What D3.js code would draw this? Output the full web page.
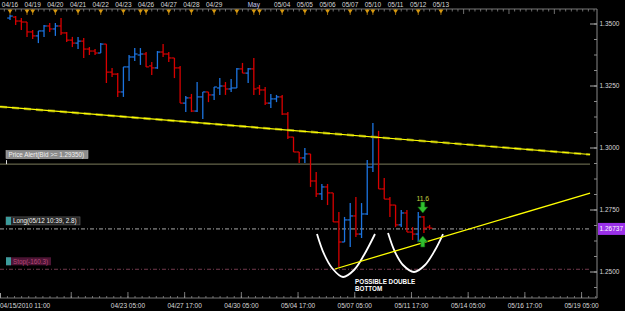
<!DOCTYPE html>
<html>
<head>
<meta charset="utf-8">
<script src="https://cdn.jsdelivr.net/npm/d3@7"></script>
<style>
  html, body { margin: 0; padding: 0; background: #000; }
  svg { display: block; }
  text { font-family: "Liberation Sans", Arial, sans-serif; }
</style>
</head>
<body>
<div id="chart"></div>
<script>
// 6h bars, eurusd-ish
const open  = [1.3524,1.3528,1.3512,1.3508,1.3468,1.3452,1.3472,1.3492,1.3480,1.3492,
               1.3464,1.3435,1.3423,1.3431,1.3399,1.3391,1.3383,1.3419,1.3306,1.3298,
               1.3226,1.3327,1.3367,1.3375,1.3379,1.3331,1.3323,1.3387,1.3379,1.3363,
               1.3323,1.3181,1.3202,1.3149,1.3206,1.3226,1.3214,1.3242,1.3250,1.3238,
               1.3242,1.3319,1.3302,1.3319,1.3242,1.3234,1.3181,1.3198,1.3206,1.3137,
               1.3044,1.2984,1.2960,1.2976,1.2867,1.2815,1.2843,1.2819,1.2702,1.2621,
               1.2710,1.2726,1.2653,1.2734,1.2923,1.3044,1.2835,1.2794,1.2770,1.2690,
               1.2738,1.2661,1.2653,1.2722,1.2681]
const high  = [1.3536,1.3532,1.3524,1.3508,1.3476,1.3472,1.3496,1.3504,1.3504,1.3524,
               1.3468,1.3448,1.3448,1.3444,1.3407,1.3399,1.3423,1.3419,1.3323,1.3302,
               1.3327,1.3375,1.3403,1.3403,1.3387,1.3347,1.3391,1.3419,1.3387,1.3363,
               1.3331,1.3210,1.3218,1.3266,1.3226,1.3226,1.3246,1.3282,1.3266,1.3278,
               1.3323,1.3343,1.3323,1.3363,1.3254,1.3246,1.3218,1.3214,1.3214,1.3145,
               1.3044,1.2984,1.3000,1.2976,1.2903,1.2855,1.2855,1.2819,1.2742,1.2722,
               1.2778,1.2802,1.2778,1.2952,1.3101,1.3069,1.2879,1.2802,1.2770,1.2750,
               1.2750,1.2681,1.2742,1.2726,1.2690]
const low   = [1.3516,1.3496,1.3476,1.3448,1.3440,1.3423,1.3448,1.3468,1.3452,1.3456,
               1.3427,1.3407,1.3399,1.3363,1.3375,1.3375,1.3383,1.3262,1.3286,1.3206,
               1.3206,1.3270,1.3351,1.3335,1.3327,1.3294,1.3319,1.3367,1.3347,1.3282,
               1.3181,1.3145,1.3145,1.3145,1.3117,1.3185,1.3194,1.3214,1.3214,1.3226,
               1.3242,1.3302,1.3262,1.3214,1.3214,1.3173,1.3161,1.3185,1.3133,1.3036,
               1.2984,1.2940,1.2940,1.2843,1.2802,1.2790,1.2770,1.2702,1.2520,1.2621,
               1.2601,1.2641,1.2637,1.2730,1.2903,1.2835,1.2794,1.2722,1.2681,1.2681,
               1.2661,1.2629,1.2621,1.2657,1.2673]
const close = [1.3532,1.3512,1.3508,1.3468,1.3452,1.3472,1.3492,1.3480,1.3492,1.3464,
               1.3435,1.3423,1.3431,1.3399,1.3391,1.3383,1.3419,1.3306,1.3298,1.3226,
               1.3327,1.3367,1.3379,1.3379,1.3327,1.3323,1.3387,1.3379,1.3363,1.3323,
               1.3181,1.3202,1.3149,1.3206,1.3226,1.3214,1.3246,1.3250,1.3238,1.3242,
               1.3319,1.3302,1.3319,1.3238,1.3234,1.3181,1.3198,1.3206,1.3137,1.3044,
               1.2984,1.2960,1.2976,1.2867,1.2815,1.2843,1.2819,1.2702,1.2621,1.2710,
               1.2726,1.2653,1.2734,1.2923,1.3044,1.2835,1.2794,1.2770,1.2690,1.2738,
               1.2661,1.2653,1.2722,1.2677,1.2677]

// top axis (day labels, in bar-index units)
const dayLabels = ["04/16","04/19","04/20","04/21","04/22","04/23","04/26","04/27","04/28","04/29",
                   "May","05/04","05/05","05/06","05/07","05/10","05/11","05/12","05/13"]
const dayIdx    = [0,4,8,12,16,20,24,28,32,36,43,48,52,56,60,64,68,72,76]
const extraMarks = [3,23,40,44,63]

// bottom axis
const timeLabels = ["04/23 05:00","04/27 17:00","04/30 05:00","05/04 17:00","05/07 05:00",
                    "05/11 17:00","05/14 05:00","05/16 17:00","05/19 05:00"]
const timeIdx    = [20.8,30.8,40.8,50.8,60.8,70.8,80.8,90.8,100.8]

// price axis
const priceTicks = [1.25,1.275,1.30,1.325,1.35]
const lastPrice = 1.26737
const alertPrice = 1.2935
const stopPrice = 1.2511

// drawn objects (index, price)
const trendDown = [[-1.76,1.31665],[102.3,1.29738]]
const trendUp   = [[57.3,1.25121],[102.3,1.28185]]
const bottom1 = [[54.14,1.26532],[55.38,1.25726],[56.79,1.25161],[58.73,1.24798],[60.67,1.25081],[62.43,1.25685],[64.37,1.26532]]
const bottom2 = [[66.67,1.26573],[67.90,1.25806],[69.31,1.25282],[71.25,1.2500],[73.19,1.25282],[74.96,1.25887],[76.37,1.26532]]
const sellArrow = [72.8,1.27379]
const buyArrow  = [72.8,1.26411]

const W = 625, H = 311
const plotRight = 590, axisX = 597, topY = 9, botY = 298

let svg = d3.select("#chart").append("svg").attr("width", W).attr("height", H)
svg.append("rect").attr("width", W).attr("height", H).attr("fill", "#000")

let x = d3.scaleLinear().domain([0, 74]).range([10, 429.6])
let y = d3.scaleLinear().domain([1.25, 1.35]).range([272, 24])

drawAxes()
drawLevels()
drawBars()
drawObjects()

function drawAxes()
{
    // top time axis
    svg.append("line").attr("x1", 0).attr("x2", axisX).attr("y1", topY).attr("y2", topY)
        .attr("stroke", "#777")
    let minor = d3.range(-1, 104)
    svg.selectAll(".tmin").data(minor).enter().append("line")
        .attr("x1", d => x(d)).attr("x2", d => x(d))
        .attr("y1", topY).attr("y2", d => (d > 76 && d % 8 == 0) ? topY + 5 : topY + 2.5)
        .attr("stroke", "#8a8a8a").attr("stroke-width", 0.8)
    let marks = dayIdx.concat(extraMarks)
    svg.selectAll(".tri").data(marks).enter().append("path")
        .attr("d", d => {
            let cx = x(d)
            return `M${cx-2.5},${topY+0.5}L${cx+2.5},${topY+0.5}L${cx},${topY+4.5}Z`
        })
        .attr("fill", "#d89a10")
    svg.selectAll(".stem").data(marks).enter().append("line")
        .attr("x1", d => x(d)).attr("x2", d => x(d)).attr("y1", topY + 3).attr("y2", topY + 6)
        .attr("stroke", "#b07a10").attr("stroke-width", 0.8)
    svg.selectAll(".dlab").data(dayLabels).enter().append("text")
        .attr("x", (d, i) => x(dayIdx[i])).attr("y", 7)
        .attr("text-anchor", "middle").attr("font-size", 6.5)
        .attr("fill", d => d == "May" ? "#c8c8f0" : "#d8d8d8")
        .text(d => d)

    // bottom time axis
    svg.append("line").attr("x1", 0).attr("x2", axisX).attr("y1", botY).attr("y2", botY)
        .attr("stroke", "#777")
    let bMinor = d3.range(-1.7, 104, 1.25)
    svg.selectAll(".bmin").data(bMinor).enter().append("line")
        .attr("x1", d => x(d)).attr("x2", d => x(d)).attr("y1", botY).attr("y2", botY - 2)
        .attr("stroke", "#8a8a8a").attr("stroke-width", 0.8)
    let bMajor = [10.8].concat(timeIdx)
    svg.selectAll(".bmaj").data(bMajor).enter().append("line")
        .attr("x1", d => x(d)).attr("x2", d => x(d)).attr("y1", botY).attr("y2", botY - 6)
        .attr("stroke", "#9a9a9a").attr("stroke-width", 0.8)
    svg.append("line").attr("x1", 0.5).attr("x2", 0.5).attr("y1", botY).attr("y2", botY - 5)
        .attr("stroke", "#9a9a9a")
    svg.append("text").attr("x", 0).attr("y", 308).attr("font-size", 6.5).attr("fill", "#d8d8d8")
        .text("04/15/2010 11:00")
    svg.selectAll(".blab").data(timeLabels).enter().append("text")
        .attr("x", (d, i) => x(timeIdx[i])).attr("y", 308)
        .attr("text-anchor", "middle").attr("font-size", 6.5).attr("fill", "#d8d8d8")
        .text(d => d)

    // right price axis
    svg.append("line").attr("x1", axisX).attr("x2", axisX).attr("y1", topY).attr("y2", botY)
        .attr("stroke", "#888")
    let pMinor = d3.range(1.24375, 1.356, 0.00625)
    svg.selectAll(".pmin").data(pMinor).enter().append("line")
        .attr("x1", axisX - 3).attr("x2", axisX).attr("y1", d => y(d)).attr("y2", d => y(d))
        .attr("stroke", "#8a8a8a")
    svg.selectAll(".pmaj").data(priceTicks).enter().append("line")
        .attr("x1", axisX - 7).attr("x2", axisX).attr("y1", d => y(d)).attr("y2", d => y(d))
        .attr("stroke", "#aaa")
    svg.selectAll(".plab").data(priceTicks).enter().append("text")
        .attr("x", 599.5).attr("y", d => y(d) + 2.3)
        .attr("font-size", 6.5).attr("fill", "#d8d8d8")
        .text(d => d3.format(".4f")(d))
}

function drawLevels()
{
    // price alert
    svg.append("line").attr("x1", 0).attr("x2", plotRight)
        .attr("y1", y(alertPrice)).attr("y2", y(alertPrice))
        .attr("stroke", "#7c7c5c").attr("stroke-width", 1)
    svg.append("rect").attr("x", 6).attr("y", y(alertPrice) - 13.5).attr("width", 82).attr("height", 8)
        .attr("fill", "#8c8c8c").attr("stroke", "#b0b0b0").attr("stroke-width", 0.6)
    svg.append("text").attr("x", 8.5).attr("y", y(alertPrice) - 7.3).attr("font-size", 6.3)
        .attr("fill", "#f0f0f0").text("Price Alert(Bid >= 1.29350)")
    svg.append("line").attr("x1", 6.5).attr("x2", 6.5)
        .attr("y1", y(alertPrice) - 4).attr("y2", y(alertPrice))
        .attr("stroke", "#ddd")

    // long entry
    let ly = y(lastPrice)
    svg.append("line").attr("x1", 0).attr("x2", plotRight).attr("y1", ly).attr("y2", ly)
        .attr("stroke", "#a8a8a8").attr("stroke-dasharray", "4,2,1,2")
    svg.append("rect").attr("x", 6).attr("y", ly - 12).attr("width", 74).attr("height", 8)
        .attr("fill", "#262626").attr("stroke", "#666").attr("stroke-width", 0.6)
    svg.append("rect").attr("x", 6).attr("y", ly - 12).attr("width", 5).attr("height", 8)
        .attr("fill", "#3c9c9c")
    svg.append("text").attr("x", 13).attr("y", ly - 5.7).attr("font-size", 6.3)
        .attr("fill", "#f0f0f0").text("Long(05/12 10:39, 2.8)")

    // stop
    let sy = y(stopPrice)
    svg.append("line").attr("x1", 0).attr("x2", plotRight).attr("y1", sy).attr("y2", sy)
        .attr("stroke", "#70384c").attr("stroke-dasharray", "4,2,1,2")
    svg.append("rect").attr("x", 6).attr("y", sy - 12).attr("width", 45).attr("height", 8)
        .attr("fill", "#4c1434")
    svg.append("rect").attr("x", 6).attr("y", sy - 12).attr("width", 5).attr("height", 8)
        .attr("fill", "#3c9c9c")
    svg.append("text").attr("x", 13).attr("y", sy - 5.7).attr("font-size", 6.3)
        .attr("fill", "#b84878").text("Stop(-160.3)")

    // last price tag
    svg.append("rect").attr("x", 598).attr("y", ly - 6).attr("width", 27).attr("height", 12)
        .attr("fill", "#9a30e8")
    svg.append("text").attr("x", 599.5).attr("y", ly + 2.3).attr("font-size", 6.5)
        .attr("fill", "#fff").text(d3.format(".5f")(lastPrice))
}

function drawBars()
{
    let bars = close.map((c, i) => ({i: i, o: open[i], h: high[i], l: low[i], c: c}))
    let g = svg.append("g")
    let col = d => d.c >= d.o ? "#1c74e0" : "#d80000"
    g.selectAll(".hl").data(bars).enter().append("line")
        .attr("x1", d => x(d.i)).attr("x2", d => x(d.i))
        .attr("y1", d => y(d.h)).attr("y2", d => y(d.l))
        .attr("stroke", col).attr("stroke-width", 1.3)
    g.selectAll(".op").data(bars).enter().append("line")
        .attr("x1", d => x(d.i) - 2.8).attr("x2", d => x(d.i))
        .attr("y1", d => y(d.o)).attr("y2", d => y(d.o))
        .attr("stroke", col).attr("stroke-width", 1.2)
    g.selectAll(".cl").data(bars).enter().append("line")
        .attr("x1", d => x(d.i)).attr("x2", d => x(d.i) + 2.8)
        .attr("y1", d => y(d.c)).attr("y2", d => y(d.c))
        .attr("stroke", col).attr("stroke-width", 1.2)
}

function drawObjects()
{
    let line = d3.line().x(d => x(d[0])).y(d => y(d[1]))
    let curve = d3.line().x(d => x(d[0])).y(d => y(d[1])).curve(d3.curveCatmullRom)

    // trend lines
    svg.append("path").attr("d", line(trendDown)).attr("fill", "none")
        .attr("stroke", "#7a7a10").attr("stroke-width", 2.6).attr("stroke-dasharray", "7,5")
    svg.append("path").attr("d", line(trendDown)).attr("fill", "none")
        .attr("stroke", "#ffff00").attr("stroke-width", 1.2)

    // double bottom sketch
    for (const b of [bottom1, bottom2]) {
        svg.append("path").attr("d", curve(b)).attr("fill", "none")
            .attr("stroke", "#fff").attr("stroke-width", 1.8)
    }
    svg.append("path").attr("d", line(trendUp)).attr("fill", "none")
        .attr("stroke", "#ffff00").attr("stroke-width", 1.3)

    svg.append("text").attr("x", x(60.85)).attr("y", y(1.2452)).attr("font-size", 6.3)
        .attr("font-family", "Liberation Serif, serif").attr("font-weight", "bold").attr("fill", "#fff")
        .text("POSSIBLE DOUBLE")
    svg.append("text").attr("x", x(60.85)).attr("y", y(1.2452) + 7.5).attr("font-size", 6.3)
        .attr("font-family", "Liberation Serif, serif").attr("font-weight", "bold").attr("fill", "#fff")
        .text("BOTTOM")

    // arrows
    let sx = x(sellArrow[0]), sy = y(sellArrow[1])
    svg.append("path")
        .attr("d", `M${sx-2},${sy-11}L${sx+2},${sy-11}L${sx+2},${sy-6}L${sx+5},${sy-6}L${sx},${sy}L${sx-5},${sy-6}L${sx-2},${sy-6}Z`)
        .attr("fill", "#30c030").attr("stroke", "#0c600c").attr("stroke-width", 0.6)
    svg.append("text").attr("x", sx).attr("y", sy - 12.5).attr("text-anchor", "middle")
        .attr("font-size", 6.8).attr("fill", "#c8d040").text("11.6")
    let bx = x(buyArrow[0]), by = y(buyArrow[1])
    svg.append("path")
        .attr("d", `M${bx-2},${by+10}L${bx+2},${by+10}L${bx+2},${by+5}L${bx+5},${by+5}L${bx},${by-1}L${bx-5},${by+5}L${bx-2},${by+5}Z`)
        .attr("fill", "#30c030").attr("stroke", "#0c600c").attr("stroke-width", 0.6)
}
</script>
</body>
</html>
